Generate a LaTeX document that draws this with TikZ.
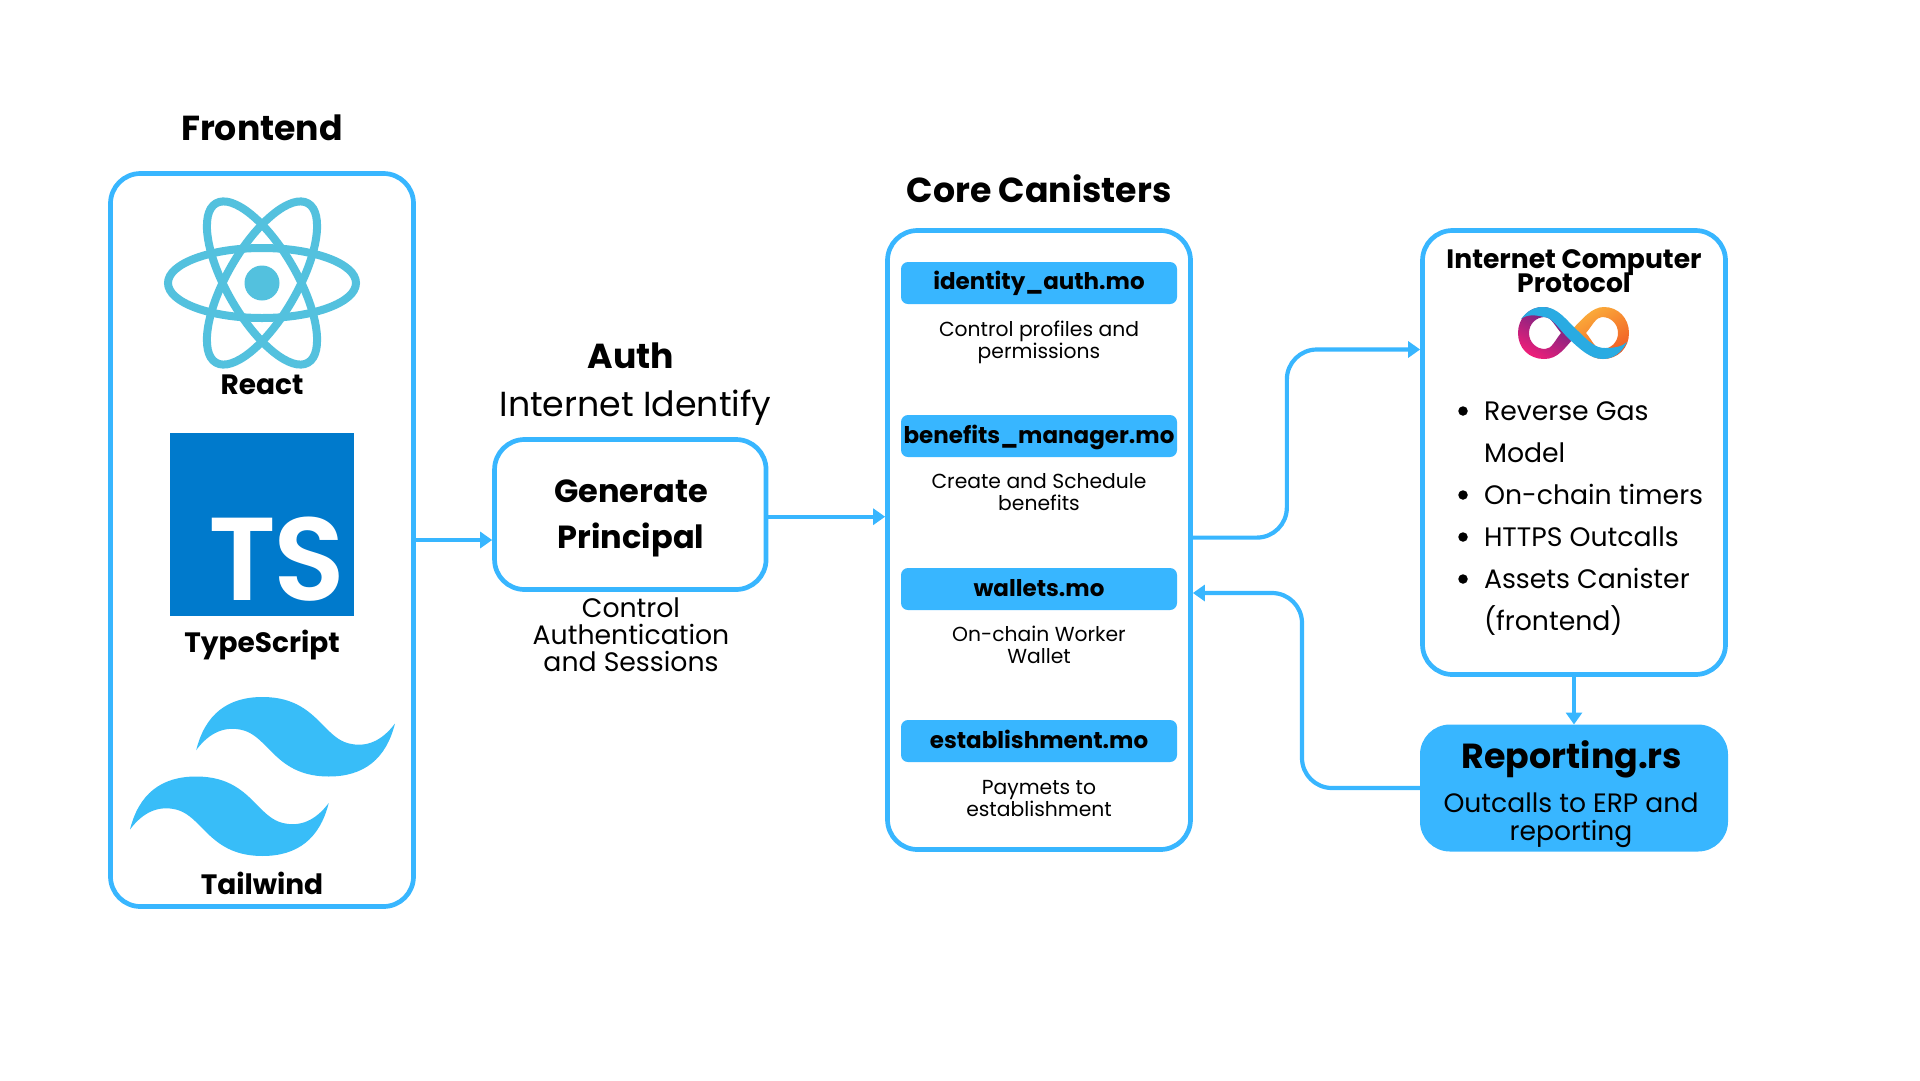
\documentclass[tikz,border=0pt]{standalone}
\usepackage{fontspec}
\setmainfont{Poppins}
\newfontfamily\tsfont{Poppins SemiBold}
\usetikzlibrary{arrows.meta,calc}
\definecolor{sky}{HTML}{38B6FF}
\definecolor{twblue}{HTML}{38BDF8}
\definecolor{reactc}{HTML}{53C1DE}
\definecolor{tsblue}{HTML}{007ACC}
\definecolor{dfcyan}{HTML}{29ABE2}
\definecolor{dfpurple}{HTML}{522785}
\definecolor{dfpink}{HTML}{ED1E79}
\definecolor{dforange}{HTML}{F15A24}
\definecolor{dfyellow}{HTML}{FBB03B}
\newcommand{\fsz}[2]{\fontsize{#1}{#2}\selectfont}
\newcommand{\twave}{(27,0) .. controls (19.8,0) and (15.3,3.6) .. (13.5,10.8)
 .. controls (16.2,7.2) and (19.35,5.85) .. (22.95,6.75)
 .. controls (25.004,7.263) and (26.472,8.754) .. (28.097,10.403)
 .. controls (30.744,13.09) and (33.808,16.2) .. (40.5,16.2)
 .. controls (47.7,16.2) and (52.2,12.6) .. (54,5.4)
 .. controls (51.3,9) and (48.15,10.35) .. (44.55,9.45)
 .. controls (42.496,8.937) and (41.028,7.446) .. (39.403,5.797)
 .. controls (36.756,3.11) and (33.692,0) .. (27,0) -- cycle}
\newcommand{\loopring}{(1518,333) .. controls (1518,318) and (1529,307) .. (1543,307) .. controls (1555,307) and (1564,318) .. (1578,333) .. controls (1564,349) and (1558,359) .. (1544,359) .. controls (1529,359) and (1518,348) .. (1518,333) -- cycle
 (1529,333) .. controls (1529,324) and (1536,317) .. (1545,317) .. controls (1551,317) and (1555,326) .. (1561,333) .. controls (1555,340) and (1552,349) .. (1545,349) .. controls (1536,349) and (1529,342) .. (1529,333) -- cycle}
\tikzset{
 panel/.style={draw=sky,line width=4.7pt,rounded corners=30pt,inner sep=0pt,outer sep=2.35pt,fill=white},
 bar/.style={fill=sky,rounded corners=7pt,inner sep=0pt,outer sep=0pt,minimum width=276pt,minimum height=42pt,text height=20pt,text depth=5.4pt,font=\bfseries\fsz{23}{23}},
 txt/.style={inner sep=0pt,outer sep=0pt,align=center,text=black},
 lbl/.style={txt,font=\bfseries\fsz{28}{28}},
 head/.style={txt,font=\bfseries\fsz{34.7}{35}},
 captext/.style={txt,font=\fsz{20.3}{22}},
 item/.style={inner sep=0pt,outer sep=0pt,anchor=base west,font=\fsz{26.7}{27}},
 dot/.style={inner sep=0pt,outer sep=0pt,circle,fill=black,minimum size=9.5pt},
 link/.style={draw=sky,line width=4.2pt,rounded corners=30pt,-{Triangle[length=12pt,width=16pt]}},
 orbit/.style={draw=reactc,line width=8pt},
}
\begin{document}
\begin{tikzpicture}[x=1pt,y=-1pt]
\useasboundingbox (0,0) rectangle (1920,1080);
% panels
\node[panel,minimum width=303pt,minimum height=733pt] (front) at (262,540) {};
\node[panel,minimum width=271.5pt,minimum height=150pt] (auth) at (630.3,514.5) {};
\node[panel,minimum width=303pt,minimum height=619pt] (core) at (1039,540) {};
\node[panel,minimum width=303pt,minimum height=444pt] (icp) at (1574,452.5) {};
\node[panel,draw=none,fill=sky,outer sep=0pt,minimum width=308pt,minimum height=127pt] (rep) at (1574,788) {};
% connectors
\draw[link] (front.east) -- (front.east -| auth.west);
\draw[link] ([yshift=-2.2pt]auth.east) -- ([yshift=-2.2pt]auth.east -| core.west);
\draw[link] ([yshift=2.4pt]core.east) -- ++(94,0) |- ([yshift=103pt]icp.west);
\draw[link] (rep.west) -- ++(-118,0) |- ([yshift=-53pt]core.east);
\draw[draw=sky,line width=4.2pt,-{Triangle[length=12pt,width=16pt]}] (icp.south) -- (rep.north);
% titles
\node[head] (tfront) at (262,128) {Frontend};
\node[head] (tcore) at (1039,189) {Core Canisters};
\node[head] (tauth) at (631,355.5) {Auth};
\node[txt,font=\fsz{34.8}{35}] (tii) at (635.5,407.5) {Internet Identify};
\node[txt,font=\bfseries\fsz{32}{45.5}] (gen) at (631,518.5) {Generate\\Principal};
\node[txt,font=\fsz{26.7}{27}] (ctl) at (631,635) {Control\\Authentication\\and Sessions};
% React
\fill[reactc] (262,283) circle (17.5);
\draw[orbit] (262,283) ellipse [x radius=94,y radius=35];
\draw[orbit,rotate around={60:(262,283)}] (262,283) ellipse [x radius=92,y radius=35];
\draw[orbit,rotate around={-60:(262,283)}] (262,283) ellipse [x radius=92,y radius=35];
\node[lbl] (lreact) at (262,385) {React};
% TypeScript
\fill[tsblue] (170,433) rectangle (354,616);
\node[inner sep=0pt,text=white,font=\tsfont\fsz{118}{118}] (ts) at (276.5,559) {T\kern-3pt S};
\node[lbl] (lts) at (262,644.5) {TypeScript};
% Tailwind
\begin{scope}[shift={(130,697)},x=4.907pt,y=-4.907pt]
\fill[twblue] \twave;
\begin{scope}[shift={(-13.5,16.2)}]
\fill[twblue] \twave;
\end{scope}
\end{scope}
\node[lbl] (ltw) at (262,883) {Tailwind};
% core bars
\node[bar,text depth=7.4pt] (b1) at (1039,283) {identity\_auth.mo};
\node[bar] (b2) at (1039,436) {benefits\_manager.mo};
\node[bar] (b3) at (1039,589) {wallets.mo};
\node[bar] (b4) at (1039,741) {establishment.mo};
\node[captext] (c1) at (1039,342.5) {Control profiles and\\permissions};
\node[captext] (c2) at (1039,492) {Create and Schedule\\benefits};
\node[captext] (c3) at (1039,645) {On-chain Worker\\Wallet};
\node[captext] (c4) at (1039,799) {Paymets to\\establishment};
% ICP
\node[txt,font=\bfseries\fsz{26.6}{27}] (ticp) at (1574,271) {Internet Computer\\[-2.5pt]Protocol};
\path[even odd rule,left color=dfpurple,middle color=dfpurple!55!dfpink,right color=dfpink,shading angle=-30] \loopring;
\begin{scope}[xscale=-1,xshift=-3147pt]
\path[even odd rule,left color=dfyellow,right color=dforange,shading angle=30] \loopring;
\end{scope}
\fill[dfcyan] (1521,319) .. controls (1528,310) and (1535,307) .. (1543,307) .. controls (1558,307) and (1566,320) .. (1578,331) .. controls (1590,343) and (1596,348) .. (1605,348) .. controls (1613,348) and (1622,347) .. (1627,342) .. controls (1622,352) and (1614,359) .. (1603,359) .. controls (1590,359) and (1580,349) .. (1569,339) .. controls (1558,328) and (1552,317) .. (1544,317) .. controls (1536,315) and (1527,314) .. (1521,319) -- cycle;
\node[dot] (d1) at (1463,411) {};
\node[item] (i1) at (1484,420) {Reverse Gas};
\node[item] (i1b) at (1484,462) {Model};
\node[dot] (d2) at (1463,495) {};
\node[item] (i2) at (1484,504) {On-chain timers};
\node[dot] (d3) at (1463,537) {};
\node[item] (i3) at (1484,546) {HTTPS Outcalls};
\node[dot] (d4) at (1463,579) {};
\node[item] (i4) at (1484,588) {Assets Canister};
\node[item] (i4b) at (1484,630) {(frontend)};
% Reporting
\node[txt,font=\bfseries\fsz{34.8}{35}] (rt) at (1572,759.5) {Reporting.rs};
\node[txt,font=\fsz{26.6}{28}] (rc) at (1571,820.5) {Outcalls to ERP and\\reporting};
\end{tikzpicture}
\end{document}
